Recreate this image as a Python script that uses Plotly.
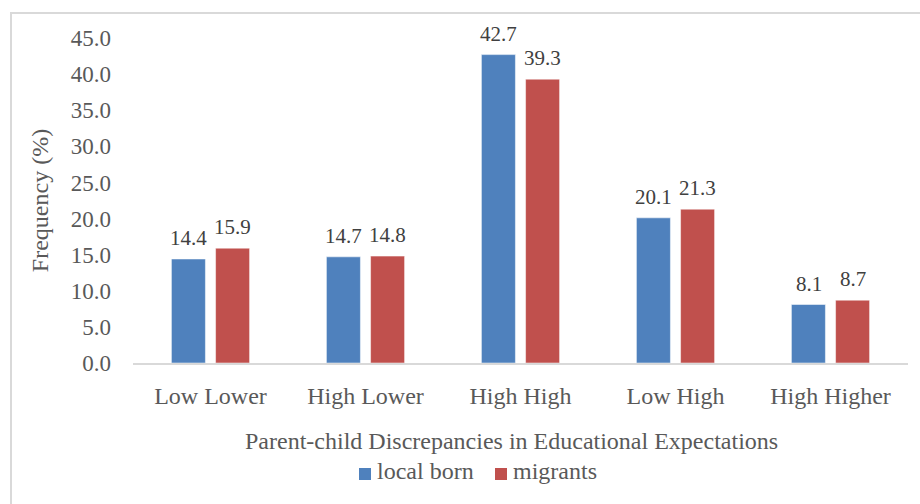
import plotly.graph_objects as go

categories = ["Low Lower", "High Lower", "High High", "Low High", "High Higher"]
local_born = [14.4, 14.7, 42.7, 20.1, 8.1]
migrants = [15.9, 14.8, 39.3, 21.3, 8.7]
series_names = ["local born", "migrants"]
series_colors = ["#4f81bd", "#c0504d"]
y_ticks = [0, 5, 10, 15, 20, 25, 30, 35, 40, 45]

FONT = '"Liberation Serif", "Times New Roman", serif'
GREY = "#595959"
FS = 24

L, R, T, B = 133, 12, 38, 141
W, H = 920, 504
pw, ph = W - L - R, H - T - B


def px_x(p):
    return (p - L) / pw


def px_y(p):
    return (H - B - p) / ph


fig = go.Figure()
for name, vals, col in zip(series_names, (local_born, migrants), series_colors):
    fig.add_trace(go.Bar(name=name, x=categories, y=vals,
                         marker=dict(color=col, line=dict(color="#ffffff", width=0.5))))

annotations = []
for series, shift in ((local_born, -22), (migrants, 22)):
    for c, v in zip(categories, series):
        annotations.append(dict(x=c, y=v, xref="x", yref="y", text=f"{v:.1f}", showarrow=False,
                                xshift=shift, yshift=7, yanchor="bottom",
                                font=dict(family=FONT, size=21, color="#404040")))

# axis title (slightly left of plot centre, as in the reference)
annotations.append(dict(x=px_x(511.5), y=px_y(441), xref="paper", yref="paper", showarrow=False,
                        text="Parent-child Discrepancies in Educational Expectations",
                        xanchor="center", yanchor="middle",
                        font=dict(family=FONT, size=FS, color=GREY)))

# legend
shapes = [dict(type="rect", xref="paper", yref="paper",
               x0=px_x(11), x1=px_x(W + 10), y0=px_y(H + 10), y1=px_y(13),
               line=dict(color="#d9d9d9", width=2), fillcolor="rgba(0,0,0,0)", layer="below")]
legend_x = [359, 495]
for name, col, lx in zip(series_names, series_colors, legend_x):
    shapes.append(dict(type="rect", xref="paper", yref="paper",
                       x0=px_x(lx), x1=px_x(lx + 12), y0=px_y(480), y1=px_y(468),
                       line=dict(width=0), fillcolor=col))
    annotations.append(dict(x=px_x(lx + 16), y=px_y(471), xref="paper", yref="paper", showarrow=False,
                            text=name, xanchor="left", yanchor="middle",
                            font=dict(family=FONT, size=FS, color=GREY)))

fig.update_layout(
    width=W, height=H,
    margin=dict(l=L, r=R, t=T, b=B),
    paper_bgcolor="white", plot_bgcolor="white",
    barmode="group", bargap=0.43, bargroupgap=0.23,
    font=dict(family=FONT, size=FS, color=GREY),
    showlegend=False,
    annotations=annotations,
    shapes=shapes,
    xaxis=dict(showgrid=False, showline=True, linecolor="#d9d9d9", linewidth=2,
               ticks="", tickfont=dict(family=FONT, size=FS, color=GREY), ticklabelstandoff=10),
    yaxis=dict(range=[0, 45], tickvals=y_ticks, ticktext=[f"{v:.1f}" for v in y_ticks],
               showgrid=False, zeroline=False, showline=False, ticks="",
               tickfont=dict(family=FONT, size=23, color=GREY), ticklabelstandoff=21,
               title=dict(text="Frequency (%)", font=dict(family=FONT, size=FS, color=GREY), standoff=15)),
)

fig.write_html("out.html")
